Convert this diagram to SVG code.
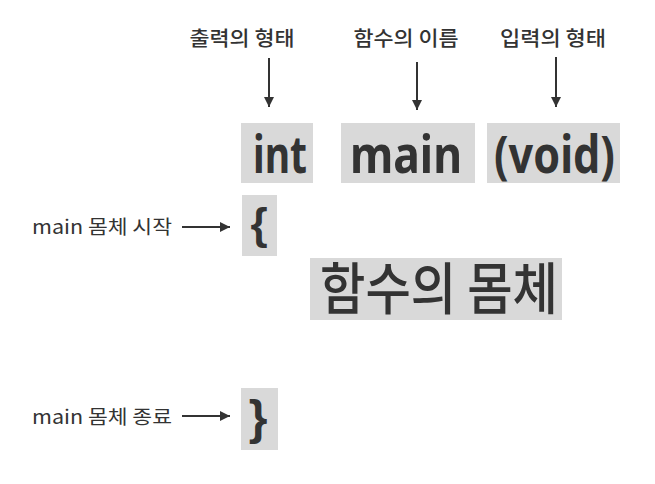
<svg xmlns="http://www.w3.org/2000/svg" width="655" height="484" viewBox="0 0 655 484">
<style>
.box{fill:#d9d9d9}
.lbl{font-family:"Noto Sans CJK KR","Noto Sans",sans-serif;font-weight:500;font-size:20px;fill:#333}
.side{font-family:"Noto Sans CJK KR","Noto Sans",sans-serif;font-size:19px;fill:#333}
.code{font-family:"Noto Sans","Liberation Sans",sans-serif;font-weight:bold;font-size:52px;fill:#333}
.brace{font-family:"Liberation Sans",sans-serif;font-weight:bold;fill:#333}
.body{font-family:"Noto Sans CJK KR","Noto Sans",sans-serif;font-weight:500;font-size:56px;fill:#333}
.ln{stroke:#333;stroke-width:2;fill:none}
</style>
<defs>
<marker id="ah" viewBox="0 0 10 10" refX="10" refY="5" markerWidth="5" markerHeight="5" orient="auto" markerUnits="strokeWidth">
<path d="M0,0 L10,5 L0,10 z" fill="#333"/>
</marker>
</defs>
<g id="label-output"><text class="lbl" x="242" y="46" text-anchor="middle" textLength="105" lengthAdjust="spacingAndGlyphs">출력의 형태</text></g>
<g id="label-name"><text class="lbl" x="406" y="46" text-anchor="middle" textLength="105" lengthAdjust="spacingAndGlyphs">함수의 이름</text></g>
<g id="label-input"><text class="lbl" x="553" y="46" text-anchor="middle" textLength="106" lengthAdjust="spacingAndGlyphs">입력의 형태</text></g>
<g id="int"><rect class="box" x="241" y="123" width="72" height="60"/><text class="code" x="253" y="173" textLength="54" lengthAdjust="spacingAndGlyphs">int</text></g>
<g id="main"><rect class="box" x="341" y="123" width="134" height="60"/><text class="code" x="350" y="173" textLength="112" lengthAdjust="spacingAndGlyphs">main</text></g>
<g id="void"><rect class="box" x="487" y="123" width="133" height="60"/><text class="code" x="494" y="173" textLength="121" lengthAdjust="spacingAndGlyphs">(void)</text></g>
<g id="label-start"><text class="side" x="32" y="234" textLength="140" lengthAdjust="spacingAndGlyphs">main 몸체 시작</text></g>
<g id="open-brace"><rect class="box" x="242" y="195" width="35" height="61"/><text class="brace" x="259" y="239" font-size="44" text-anchor="middle">{</text></g>
<g id="body"><rect class="box" x="310" y="258" width="252" height="62"/><text class="body" x="320" y="309" textLength="238" lengthAdjust="spacingAndGlyphs">함수의 몸체</text></g>
<g id="label-end"><text class="side" x="32" y="424" textLength="140" lengthAdjust="spacingAndGlyphs">main 몸체 종료</text></g>
<g id="close-brace"><rect class="box" x="241" y="388" width="37" height="62"/><text class="brace" x="258" y="434" font-size="48" text-anchor="middle">}</text></g>
<g id="connectors">
<line class="ln" x1="269" y1="58" x2="269" y2="107" marker-end="url(#ah)"/>
<line class="ln" x1="417" y1="62" x2="417" y2="110" marker-end="url(#ah)"/>
<line class="ln" x1="556" y1="57" x2="556" y2="107" marker-end="url(#ah)"/>
<line class="ln" x1="182" y1="227" x2="230" y2="227" marker-end="url(#ah)"/>
<line class="ln" x1="182" y1="416" x2="230" y2="416" marker-end="url(#ah)"/>
</g>
</svg>
